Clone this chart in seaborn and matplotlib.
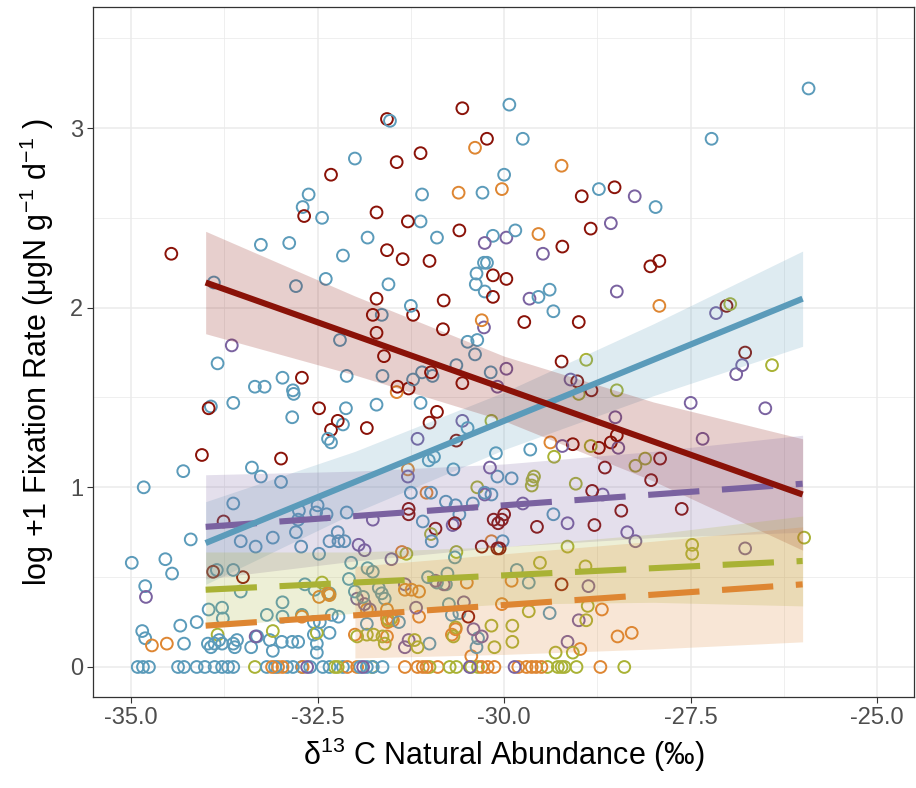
import numpy as np
import pandas as pd
import matplotlib
matplotlib.use("Agg")
import matplotlib.pyplot as plt
import seaborn as sns

# ---- observations: (d13C, log+1 fixation rate) per group ----
blue_pts = [
    (-31.53, 3.04), (-32.00, 2.83), (-32.62, 2.63), (-32.70, 2.56), (-32.44, 2.50), (-31.12, 2.48),
    (-31.10, 2.63), (-30.29, 2.64), (-30.00, 2.74), (-30.90, 2.39), (-31.83, 2.39), (-33.26, 2.35),
    (-32.88, 2.36), (-32.16, 2.29), (-30.15, 2.40), (-30.27, 2.25), (-30.23, 2.25), (-30.37, 2.19),
    (-30.38, 2.13), (-30.26, 2.09), (-33.89, 2.14), (-32.79, 2.12), (-32.39, 2.16), (-31.55, 2.13),
    (-31.64, 1.96), (-31.25, 2.01), (-32.20, 1.82), (-30.49, 1.81), (-30.36, 1.82),
    (-29.93, 3.13), (-25.92, 3.22), (-29.75, 2.94), (-27.22, 2.94), (-28.73, 2.66), (-27.97, 2.56),
    (-29.85, 2.43), (-29.54, 2.06), (-29.39, 2.10), (-29.34, 1.98),
    (-30.39, 1.74), (-30.64, 1.68), (-30.96, 1.62), (-31.10, 1.64), (-30.18, 1.64), (-32.97, 1.61),
    (-32.11, 1.62), (-31.63, 1.62), (-33.34, 1.56), (-33.21, 1.56), (-32.83, 1.54), (-31.22, 1.60),
    (-33.84, 1.69), (-32.82, 1.52), (-32.84, 1.39), (-33.63, 1.47), (-33.93, 1.45), (-32.12, 1.44),
    (-31.71, 1.46), (-32.16, 1.35), (-32.36, 1.27), (-32.32, 1.25), (-31.12, 1.47), (-30.49, 1.33),
    (-31.01, 1.15), (-30.94, 1.17), (-30.68, 1.10), (-30.11, 1.19), (-30.09, 1.06), (-31.25, 0.97),
    (-30.98, 0.97), (-30.17, 0.96), (-30.78, 0.92), (-30.65, 0.90), (-30.60, 0.85), (-30.42, 0.91),
    (-31.09, 0.81), (-32.11, 0.86), (-32.50, 0.90), (-32.52, 0.86), (-32.38, 0.85), (-32.75, 0.87),
    (-32.76, 0.82), (-32.79, 0.75), (-33.10, 0.72), (-33.53, 0.70), (-33.33, 0.67), (-32.72, 0.67),
    (-32.48, 0.63), (-32.34, 0.70), (-32.23, 0.75), (-32.22, 0.70), (-32.14, 0.70), (-32.05, 0.58),
    (-31.83, 0.55), (-31.76, 0.53), (-32.08, 0.49), (-34.99, 0.58), (-34.54, 0.60), (-34.45, 0.52),
    (-34.83, 1.00), (-34.30, 1.09), (-34.20, 0.71), (-34.81, 0.45), (-33.85, 0.54), (-33.63, 0.54),
    (-33.53, 0.42), (-33.38, 1.11), (-33.26, 1.06), (-32.99, 1.03), (-33.63, 0.91), (-33.96, 0.32),
    (-33.78, 0.33), (-33.77, 0.27), (-34.85, 0.20), (-34.81, 0.16), (-34.34, 0.23), (-34.29, 0.13),
    (-34.12, 0.25), (-33.97, 0.13), (-33.93, 0.11), (-33.88, 0.13), (-33.82, 0.15), (-33.78, 0.13),
    (-33.63, 0.13), (-33.58, 0.15), (-33.61, 0.11), (-33.39, 0.11), (-33.31, 0.17), (-33.14, 0.15),
    (-33.10, 0.09), (-32.98, 0.14), (-32.84, 0.14), (-32.76, 0.14), (-32.97, 0.36), (-32.97, 0.28),
    (-33.18, 0.29), (-32.71, 0.29), (-32.55, 0.25), (-32.47, 0.25), (-32.55, 0.18), (-32.51, 0.13),
    (-32.51, 0.08), (-32.34, 0.19), (-32.31, 0.29), (-32.67, 0.46), (-32.54, 0.43), (-32.34, 0.41),
    (-32.00, 0.42), (-31.89, 0.39), (-31.68, 0.44), (-31.64, 0.41), (-31.60, 0.38), (-31.41, 0.25),
    (-31.84, 0.24), (-32.22, 0.28), (-31.00, 0.13), (-31.02, 0.50), (-30.90, 0.47), (-30.76, 0.52),
    (-30.78, 0.46), (-30.74, 0.35), (-30.60, 0.30), (-30.70, 0.29), (-30.37, 0.11), (-30.35, 0.16),
    (-30.66, 0.61), (-29.90, 1.05), (-30.02, 0.70), (-29.83, 0.54), (-29.67, 0.47), (-29.39, 0.30),
    (-29.65, 1.21), (-29.34, 0.85), (-30.97, 0.70), (-30.26, 0.97),
]
blue_zero_x = [-34.91, -34.84, -34.76, -34.37, -34.29, -34.12, -34.01, -33.88, -33.78, -33.70,
               -33.63, -33.18, -33.07, -32.91, -32.83, -32.71, -32.60, -32.43, -32.34, -32.16,
               -31.93, -31.84, -31.76, -31.63]

red_pts = [
    (-34.46, 2.30), (-31.57, 3.05), (-30.56, 3.11), (-30.23, 2.94), (-31.44, 2.81), (-31.12, 2.86),
    (-32.32, 2.74), (-32.68, 2.51), (-31.71, 2.53), (-31.29, 2.48), (-30.60, 2.43), (-31.57, 2.32),
    (-31.36, 2.27), (-31.00, 2.26), (-30.15, 2.18), (-29.97, 2.16), (-30.15, 2.06), (-31.71, 2.05),
    (-31.76, 1.96), (-31.22, 1.96), (-30.81, 2.04), (-31.71, 1.86), (-30.82, 1.88),
    (-28.96, 2.62), (-28.52, 2.67), (-29.22, 2.34), (-28.84, 2.44), (-28.04, 2.23), (-27.92, 2.26),
    (-29.73, 1.92), (-29.00, 1.92), (-27.02, 2.01),
    (-26.77, 1.75), (-29.23, 1.70), (-29.02, 1.59), (-28.83, 1.54), (-28.49, 1.29), (-28.57, 1.25),
    (-29.08, 1.24), (-28.73, 1.22), (-28.65, 1.11), (-27.91, 1.16), (-28.03, 1.04), (-28.82, 0.98),
    (-28.43, 0.87), (-27.62, 0.88), (-28.79, 0.79), (-29.56, 0.78), (-30.00, 0.85), (-30.03, 0.82),
    (-30.06, 0.66), (-29.23, 0.46),
    (-31.61, 1.73), (-30.98, 1.64), (-32.71, 1.61), (-31.43, 1.56), (-31.28, 1.55), (-30.56, 1.58),
    (-33.96, 1.44), (-32.48, 1.44), (-32.23, 1.37), (-32.32, 1.32), (-31.84, 1.33), (-30.90, 1.42),
    (-31.00, 1.36), (-30.64, 1.26), (-31.28, 0.88), (-31.28, 0.85), (-30.66, 0.80), (-30.92, 0.77),
    (-30.14, 0.82), (-30.08, 0.80), (-33.76, 0.81), (-33.90, 0.53), (-33.50, 0.50), (-32.99, 1.16),
    (-34.05, 1.18), (-30.30, 0.67), (-30.09, 0.66), (-30.48, 0.28),
]
red_zero_x = []

purple_pts = [
    (-33.65, 1.79), (-30.27, 1.89), (-30.26, 2.36), (-29.97, 2.39), (-28.25, 2.62), (-28.57, 2.47),
    (-29.48, 2.30), (-29.66, 2.05), (-28.49, 2.09), (-27.16, 1.97),
    (-26.81, 1.68), (-26.89, 1.63), (-27.50, 1.47), (-26.50, 1.44), (-27.34, 1.27), (-29.97, 1.66),
    (-29.11, 1.60), (-28.51, 1.39), (-28.47, 1.22), (-29.22, 1.23), (-28.68, 0.96), (-29.15, 0.80),
    (-29.75, 0.91), (-28.35, 0.75), (-28.24, 0.70), (-26.77, 0.66), (-28.87, 0.45), (-29.00, 0.26),
    (-29.15, 0.14),
    (-30.09, 1.56), (-30.56, 1.37), (-31.16, 1.27), (-30.19, 1.11), (-31.29, 1.06), (-30.69, 0.79),
    (-31.76, 0.82), (-31.95, 0.68), (-31.87, 0.65), (-31.51, 0.60), (-34.80, 0.39), (-33.33, 0.17),
    (-30.26, 0.96),
    (-31.97, 0.38), (-31.87, 0.35), (-31.80, 0.32), (-31.33, 0.46), (-30.92, 0.48), (-30.81, 0.46),
    (-31.18, 0.33), (-30.54, 0.36), (-31.33, 0.11), (-31.28, 0.15), (-30.41, 0.21), (-30.30, 0.17),
]
purple_zero_x = [-32.64, -31.89, -30.46, -29.86]

yellow_pts = [
    (-26.97, 2.02), (-28.90, 1.71), (-26.41, 1.68), (-29.00, 1.52), (-28.49, 1.54), (-28.84, 1.23),
    (-29.33, 1.17), (-28.24, 1.12), (-28.11, 1.16), (-29.60, 1.06), (-29.62, 1.04), (-29.63, 1.01),
    (-29.04, 1.02), (-27.48, 0.68), (-27.48, 0.63), (-25.98, 0.72), (-29.15, 0.67), (-29.52, 0.58),
    (-28.91, 0.56), (-28.88, 0.34), (-29.67, 0.31), (-28.90, 0.26), (-29.89, 0.23), (-29.89, 0.14),
    (-29.31, 0.08), (-29.08, 0.08),
    (-30.17, 1.37), (-30.36, 1.00), (-30.98, 0.74), (-31.31, 0.63), (-33.84, 0.18), (-33.10, 0.20),
    (-32.51, 0.19), (-30.64, 0.64),
    (-32.44, 0.47), (-31.97, 0.17), (-31.84, 0.18), (-31.75, 0.18), (-31.63, 0.17), (-31.60, 0.13),
    (-31.55, 0.26), (-31.51, 0.27), (-31.20, 0.15), (-31.16, 0.11), (-30.65, 0.22), (-30.68, 0.17),
    (-30.13, 0.11), (-30.17, 0.23),
]
yellow_zero_x = [-33.34, -32.27, -32.23, -31.77, -31.00, -30.73, -30.64, -30.44, -30.35, -29.42,
                 -29.28, -29.23, -29.19, -29.03, -28.39]

orange_pts = [
    (-30.39, 2.89), (-30.61, 2.64), (-30.03, 2.66), (-30.30, 1.93), (-29.23, 2.79), (-29.54, 2.41),
    (-27.92, 2.01), (-29.38, 1.25), (-29.90, 0.48), (-30.03, 0.35), (-28.69, 0.32), (-28.48, 0.17),
    (-28.29, 0.19), (-28.98, 0.10), (-31.44, 1.53), (-31.29, 1.10), (-31.04, 0.97), (-31.37, 0.64),
    (-34.72, 0.12), (-34.52, 0.13), (-30.17, 0.70),
    (-32.48, 0.39), (-32.36, 0.41), (-32.34, 0.40), (-31.84, 0.32), (-31.57, 0.27), (-31.57, 0.32),
    (-31.33, 0.43), (-31.24, 0.43), (-31.14, 0.42), (-31.14, 0.28), (-30.50, 0.47), (-32.71, 0.28),
    (-30.70, 0.18), (-30.65, 0.21), (-30.44, 0.06), (-32.00, 0.18), (-31.57, 0.17), (-31.56, 0.25),
    (-31.49, 0.26),
]
orange_zero_x = [-33.11, -33.03, -32.97, -32.70, -32.10, -31.97, -31.33, -31.16, -31.09, -31.04,
                 -30.89, -30.30, -30.22, -30.13, -29.81, -29.70, -29.63, -29.57, -29.50, -28.71]

# ---- fitted trends with confidence limits ----
fit_x = [-34.0, -32.0, -30.0, -28.0, -26.0]
blue_fit = [0.69, 1.03, 1.37, 1.71, 2.05]
blue_lo = [0.46, 0.86, 1.21, 1.51, 1.785]
blue_hi = [0.92, 1.20, 1.53, 1.91, 2.315]
red_fit = [2.14, 1.845, 1.55, 1.255, 0.96]
red_lo = [1.855, 1.625, 1.37, 1.035, 0.65]
red_hi = [2.425, 2.065, 1.73, 1.475, 1.27]
purple_fit = [0.78, 0.84, 0.90, 0.96, 1.02]
purple_lo = [0.49, 0.59, 0.67, 0.72, 0.75]
purple_hi = [1.07, 1.09, 1.13, 1.20, 1.29]
yellow_fit = [0.43, 0.47, 0.51, 0.55, 0.59]
yellow_lo = [0.22, 0.30, 0.35, 0.36, 0.34]
yellow_hi = [0.64, 0.64, 0.67, 0.74, 0.84]
orange_fit = [0.23, 0.2875, 0.345, 0.4025, 0.46]
orange_band_x = [-32.0, -30.0, -28.0, -26.0]
orange_lo = [0.05, 0.07, 0.10, 0.14]
orange_hi = [0.56, 0.63, 0.70, 0.78]

x_ticks = [-35.0, -32.5, -30.0, -27.5, -25.0]
y_ticks = [0, 1, 2, 3]

colors = {
    "blue": "#5B9BBA",
    "red": "#8A1208",
    "purple": "#7A62A0",
    "yellow": "#A9B235",
    "orange": "#DE8632",
}

# ---- assemble the long table ----
frames = []
for name, pts, zeros in [("blue", blue_pts, blue_zero_x), ("red", red_pts, red_zero_x),
                         ("purple", purple_pts, purple_zero_x), ("yellow", yellow_pts, yellow_zero_x),
                         ("orange", orange_pts, orange_zero_x)]:
    xs = [p[0] for p in pts] + list(zeros)
    ys = [p[1] for p in pts] + [0.0] * len(zeros)
    frames.append(pd.DataFrame({"d13C": xs, "rate": ys, "group": name}))
obs = pd.DataFrame(pd.concat(frames, ignore_index=True))
obs = obs.sample(frac=1.0, random_state=3).reset_index(drop=True)  # interleave drawing order

fits = pd.DataFrame({
    "d13C": fit_x * 5,
    "rate": blue_fit + red_fit + purple_fit + yellow_fit + orange_fit,
    "group": ["blue"] * 5 + ["red"] * 5 + ["purple"] * 5 + ["yellow"] * 5 + ["orange"] * 5,
})

# ---- style ----
sns.set_style("white")
plt.rcParams["font.family"] = ["Liberation Sans", "DejaVu Sans"]
plt.rcParams["mathtext.fontset"] = "custom"
plt.rcParams["mathtext.rm"] = "Liberation Sans"
plt.rcParams["mathtext.it"] = "Liberation Sans:italic"
plt.rcParams["mathtext.bf"] = "Liberation Sans:bold"
plt.rcParams["axes.unicode_minus"] = False

fig = plt.figure(figsize=(9.16, 7.88), dpi=100)
ax = fig.add_axes([0.1015, 0.1155, 0.8965, 0.8755])

# points as open circles
sns.scatterplot(data=obs, x="d13C", y="rate", hue="group", palette=colors, s=72,
                legend=False, ax=ax, zorder=3)
pc = ax.collections[-1]
pc.set_edgecolors(pc.get_facecolors())
pc.set_facecolors("none")
pc.set_linewidths(1.4)

# confidence ribbons
bands = [
    ("blue", fit_x, blue_lo, blue_hi),
    ("red", fit_x, red_lo, red_hi),
    ("purple", fit_x, purple_lo, purple_hi),
    ("yellow", fit_x, yellow_lo, yellow_hi),
    ("orange", orange_band_x, orange_lo, orange_hi),
]
for name, bx, lo, hi in bands:
    ax.fill_between(bx, lo, hi, color=colors[name], alpha=0.2, linewidth=0, zorder=4)

# trend lines
dash = (0, (8.4, 3.7))
for name in ["yellow", "orange", "purple", "blue", "red"]:
    sub = fits[fits["group"] == name]
    ls = "-" if name in ("blue", "red") else dash
    sns.lineplot(data=sub, x="d13C", y="rate", color=colors[name], linewidth=4.4,
                 linestyle=ls, ax=ax, zorder=5)
for ln in ax.lines:
    ln.set_dash_capstyle("butt")
    ln.set_solid_capstyle("butt")

# axes, grid, frame
ax.set_xlim(-35.51, -24.505)
ax.set_ylim(-0.167, 3.673)
ax.set_xticks(x_ticks)
ax.set_xticklabels([f"{v:.1f}" for v in x_ticks])
ax.set_yticks(y_ticks)
ax.set_yticklabels([str(v) for v in y_ticks])
ax.set_xticks([-33.75, -31.25, -28.75, -26.25], minor=True)
ax.set_yticks([0.5, 1.5, 2.5, 3.5], minor=True)
ax.grid(which="major", color="#EBEBEB", linewidth=1.1, zorder=0)
ax.grid(which="minor", color="#EBEBEB", linewidth=0.55, zorder=0)
ax.set_axisbelow(True)
ax.tick_params(which="major", direction="out", length=4, width=0.8, color="#333333",
               labelsize=17, labelcolor="#4D4D4D", pad=3, bottom=True, left=True)
ax.tick_params(which="minor", length=0)
for sp in ax.spines.values():
    sp.set_color("#333333")
    sp.set_linewidth(0.9)

ax.set_xlabel(r"δ$^{13}$ C Natural Abundance (‰)", fontsize=22, color="black", labelpad=5)
ax.set_ylabel(r"log +1 Fixation Rate (μgN g$^{-1}$ d$^{-1}$ )", fontsize=22,
              color="black", labelpad=10)

fig.savefig("out.png", dpi=100)
